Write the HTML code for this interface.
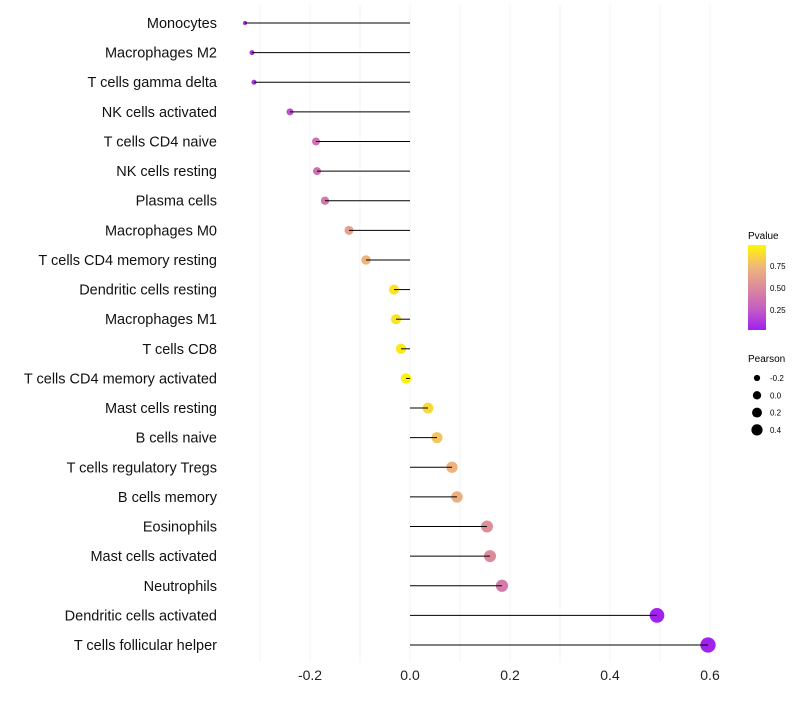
<!DOCTYPE html>
<html><head><meta charset="utf-8"><style>
body{margin:0;background:#fff;font-family:"Liberation Sans",sans-serif}
</style></head><body>
<svg id="chart" width="800" height="700" xmlns="http://www.w3.org/2000/svg">
<defs><linearGradient id="pg" x1="0" y1="1" x2="0" y2="0">
<stop offset="0" stop-color="#A020F0"/><stop offset="0.25" stop-color="#C45EC4"/><stop offset="0.5" stop-color="#DC8A9C"/><stop offset="0.75" stop-color="#F0B878"/><stop offset="1" stop-color="#FFF700"/></linearGradient></defs>
<g id="grid"></g>
<g id="marks"></g>
<g id="legend">
<text x="748" y="239" font-size="10">Pvalue</text>
<rect x="748" y="245" width="18" height="85" fill="url(#pg)"/>
<text x="770" y="269" font-size="8">0.75</text>
<text x="770" y="291" font-size="8">0.50</text>
<text x="770" y="313" font-size="8">0.25</text>
<text x="748" y="362" font-size="10">Pearson</text>
</g>
</svg>
<script>
const cats=["Monocytes","Macrophages M2","T cells gamma delta","NK cells activated","T cells CD4 naive","NK cells resting","Plasma cells","Macrophages M0","T cells CD4 memory resting","Dendritic cells resting","Macrophages M1","T cells CD8","T cells CD4 memory activated","Mast cells resting","B cells naive","T cells regulatory  Tregs","B cells memory","Eosinophils","Mast cells activated","Neutrophils","Dendritic cells activated","T cells follicular helper"];
const pearson=[-0.33,-0.316,-0.312,-0.24,-0.188,-0.186,-0.17,-0.122,-0.088,-0.032,-0.028,-0.018,-0.008,0.036,0.054,0.084,0.094,0.154,0.16,0.184,0.494,0.596];
const pvalue=[0.05,0.06,0.08,0.2,0.35,0.35,0.4,0.62,0.72,0.92,0.92,0.95,0.98,0.88,0.8,0.72,0.7,0.52,0.5,0.42,0.01,0.005];
const xticks=[-0.2,0,0.2,0.4,0.6];
const xtickLabels=["-0.2","0.0","0.2","0.4","0.6"];
const legendSizes=[-0.2,0,0.2,0.4];
const legendLabels=["-0.2","0.0","0.2","0.4"];
const NS="http://www.w3.org/2000/svg";
const X=v=>410+v*500;
const Y=i=>23+i*(622/21);
const R=p=>1.5+6.2*Math.sqrt(Math.max(p+0.34,0)/0.94);
const stops=[[0,[160,32,240]],[0.25,[196,94,196]],[0.5,[220,138,156]],[0.75,[240,184,120]],[1,[255,247,0]]];
function col(p){for(let k=0;k<stops.length-1;k++){const a=stops[k],b=stops[k+1];if(p<=b[0]){const t=(p-a[0])/(b[0]-a[0]);const c=a[1].map((v,j)=>Math.round(v+(b[1][j]-v)*t));return `rgb(${c})`;}}return "rgb(255,247,0)";}
function mk(t,a,parent){const e=document.createElementNS(NS,t);for(const k in a)e.setAttribute(k,a[k]);parent.appendChild(e);return e;}
const grid=document.getElementById('grid'),marks=document.getElementById('marks'),leg=document.getElementById('legend');
for(let v=-0.3;v<=0.61;v+=0.1){const g=mk('line',{x1:X(v),x2:X(v),y1:5,y2:662,stroke:'#f3f3f3','stroke-width':1},grid);

}
xticks.forEach((v,i)=>{const t=mk('text',{x:X(v),y:680,'font-size':14,'text-anchor':'middle',fill:'#222'},grid);t.textContent=xtickLabels[i];

});
cats.forEach((c,i)=>{const y=Y(i);
const t=mk('text',{x:217,y:y+5,'font-size':14.5,'text-anchor':'end',fill:'#111'},marks);t.textContent=c;


const d=mk('circle',{cx:X(pearson[i]),cy:y,r:R(pearson[i]),fill:col(pvalue[i])},marks);


const l=mk('line',{x1:X(0),x2:X(pearson[i]),y1:y,y2:y,stroke:'#000','stroke-width':1},marks);

});
legendSizes.forEach((v,i)=>{const y=378+i*17.3;
const d=mk('circle',{cx:757,cy:y,r:R(v)*0.8,fill:'#000'},leg);


const t=mk('text',{x:770,y:y+3,'font-size':8},leg);t.textContent=legendLabels[i];

});
</script>
</body></html>
